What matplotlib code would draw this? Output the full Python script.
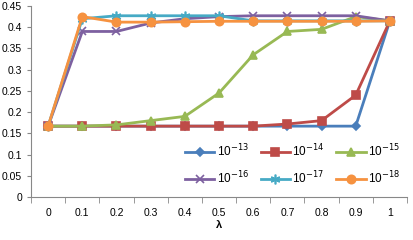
import matplotlib
matplotlib.use('Agg')
import matplotlib.pyplot as plt
import numpy as np

plt.rcParams['font.family'] = ['Liberation Sans', 'DejaVu Sans']

lam_labels = ['0', '0.1', '0.2', '0.3', '0.4', '0.5', '0.6', '0.7', '0.8', '0.9', '1']
s13 = [0.167, 0.167, 0.167, 0.167, 0.167, 0.167, 0.167, 0.167, 0.167, 0.167, 0.415]
s14 = [0.167, 0.167, 0.167, 0.167, 0.167, 0.167, 0.167, 0.172, 0.180, 0.240, 0.415]
s15 = [0.167, 0.167, 0.170, 0.180, 0.190, 0.245, 0.335, 0.390, 0.395, 0.425, 0.415]
s16 = [0.167, 0.390, 0.390, 0.410, 0.420, 0.425, 0.427, 0.427, 0.427, 0.427, 0.415]
s17 = [0.167, 0.420, 0.427, 0.427, 0.427, 0.427, 0.415, 0.415, 0.415, 0.415, 0.415]
s18 = [0.167, 0.425, 0.412, 0.412, 0.413, 0.414, 0.414, 0.414, 0.414, 0.414, 0.415]

series = [
    (s13, '10$^{-13}$', '#4A7EBB', 'D', 4),
    (s14, '10$^{-14}$', '#BE4B48', 's', 6),
    (s15, '10$^{-15}$', '#98B954', '^', 6),
    (s16, '10$^{-16}$', '#7D60A0', 'x', 6),
    (s17, '10$^{-17}$', '#46AAC5', (6, 2, 0), 7),
    (s18, '10$^{-18}$', '#F69240', 'o', 6),
]

fig = plt.figure(figsize=(4.14, 2.4), dpi=100)
ax = fig.add_axes([0.075, 0.179, 0.908, 0.796])
x = np.arange(len(lam_labels))
lines = []
for vals, lab, col, mk, ms in series:
    ln, = ax.plot(x, vals, color=col, lw=2, marker=mk, ms=ms, mew=1.2, mec=col, mfc=col, label=lab)
    lines.append(ln)

ax.set_xlim(-0.5, 10.5)
ax.set_ylim(0, 0.45)
ax.set_yticks(np.arange(0, 0.451, 0.05))
ax.set_yticklabels(['0', '0.05', '0.1', '0.15', '0.2', '0.25', '0.3', '0.35', '0.4', '0.45'])
ax.set_xticks(x)
ax.set_xticklabels(lam_labels)
ax.set_xticks(np.arange(-0.5, 10.6, 1), minor=True)
ax.tick_params(axis='x', which='major', length=0, labelsize=7.5, pad=8)
ax.tick_params(axis='x', which='minor', length=4, color='#888888')
ax.tick_params(axis='y', length=3, labelsize=7.5, color='#888888')
ax.spines[['top', 'right']].set_visible(False)
ax.spines['left'].set_color('#888888')
ax.spines['bottom'].set_color('#888888')
ax.set_xlabel('λ', fontsize=8, fontweight='bold', labelpad=1)

# row-major legend order
order = [0, 3, 1, 4, 2, 5]
ax.legend([lines[i] for i in order], [series[i][1] for i in order],
          ncol=3, frameon=False, fontsize=8.5, loc='lower right',
          bbox_to_anchor=(1.01, 0.0), handlelength=2.5, columnspacing=1.0,
          handletextpad=0.2, labelspacing=0.9)

fig.savefig('out.png', dpi=100, facecolor='white')
